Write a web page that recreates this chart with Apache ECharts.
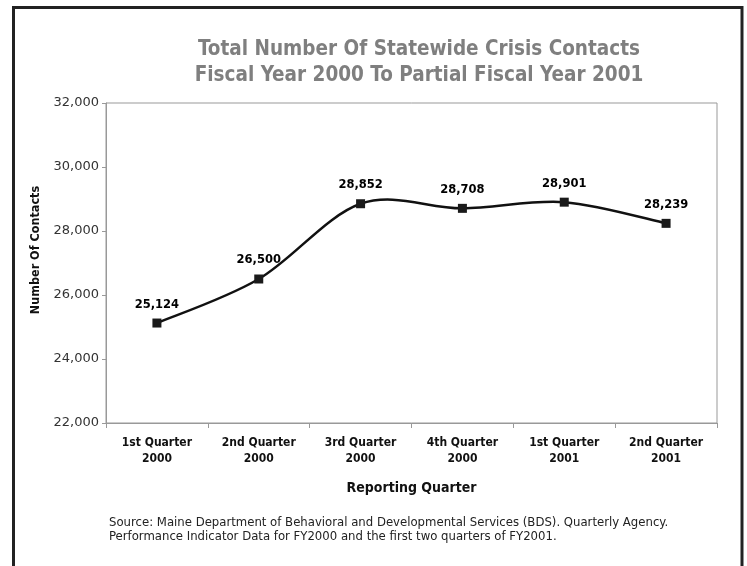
<!DOCTYPE html>
<html>
<head>
<meta charset="utf-8">
<script src="https://cdn.jsdelivr.net/npm/echarts@6/dist/echarts.min.js"></script>
<style>html,body{margin:0;padding:0;background:#fff;}#c{width:747px;height:566px;}</style>
</head>
<body>
<div id="c"></div>
<script>
const categories = ['1st Quarter\n2000', '2nd Quarter\n2000', '3rd Quarter\n2000', '4th Quarter\n2000', '1st Quarter\n2001', '2nd Quarter\n2001'];
const contacts = [25124, 26500, 28852, 28708, 28901, 28239];
const yMin = 22000, yMax = 32000, yStep = 2000;
const titleText = 'Total Number Of Statewide Crisis Contacts\nFiscal Year 2000 To Partial Fiscal Year 2001';
const yName = 'Number Of Contacts';
const xName = 'Reporting Quarter';
const sourceText = 'Source: Maine Department of Behavioral and Developmental Services (BDS). Quarterly Agency.\nPerformance Indicator Data for FY2000 and the first two quarters of FY2001.';

const narrow = '"Liberation Sans Narrow", "DejaVu Sans Condensed", sans-serif';

// Spline segment (Catmull-Rom style, like a spreadsheet "smoothed line"), positions via axis scales
function renderSpline(params, api) {
  const i = params.dataIndex;
  const n = contacts.length;
  if (i >= n - 1) return null;
  const pt = k => api.coord([Math.max(0, Math.min(n - 1, k)), contacts[Math.max(0, Math.min(n - 1, k))]]);
  const p0 = pt(i - 1), p1 = pt(i), p2 = pt(i + 1), p3 = pt(i + 2);
  return {
    type: 'bezierCurve',
    shape: {
      x1: p1[0], y1: p1[1], x2: p2[0], y2: p2[1],
      cpx1: p1[0] + (p2[0] - p0[0]) / 6, cpy1: p1[1] + (p2[1] - p0[1]) / 6,
      cpx2: p2[0] - (p3[0] - p1[0]) / 6, cpy2: p2[1] - (p3[1] - p1[1]) / 6
    },
    style: {fill: null, stroke: '#111', lineWidth: 2.5},
    silent: true
  };
}

const chart = echarts.init(document.getElementById('c'), null, {renderer: 'canvas'});
chart.setOption({
  animation: false,
  backgroundColor: '#fff',
  title: {
    text: titleText,
    left: 414, top: 32, textAlign: 'center',
    textStyle: {fontFamily: narrow, fontWeight: 'bold', fontSize: 20.5, lineHeight: 26, color: '#7f7f7f'}
  },
  grid: {left: 106, right: 30, top: 103, bottom: 143, show: true, borderColor: '#999', borderWidth: 1},
  xAxis: {
    type: 'category', data: categories, boundaryGap: true,
    name: xName, nameLocation: 'middle', nameGap: 58,
    nameTextStyle: {fontFamily: narrow, fontWeight: 'bold', fontSize: 14, color: '#111'},
    axisLine: {lineStyle: {color: '#999'}},
    axisTick: {show: true, length: 5, lineStyle: {color: '#999'}},
    axisLabel: {fontFamily: narrow, fontWeight: 'bold', fontSize: 12, lineHeight: 16, color: '#111', margin: 12, interval: 0}
  },
  yAxis: {
    type: 'value', min: yMin, max: yMax, interval: yStep,
    axisLine: {show: true, lineStyle: {color: '#999'}},
    axisTick: {show: true, length: 4, lineStyle: {color: '#999'}},
    splitLine: {show: false},
    axisLabel: {fontFamily: '"DejaVu Sans", sans-serif', fontSize: 13, color: '#333', margin: 7,
      formatter: v => v.toLocaleString('en-US')}
  },
  series: [
    {
      type: 'custom', data: contacts, renderItem: renderSpline, z: 2, clip: false
    },
    {
      type: 'scatter', data: contacts, z: 3,
      symbol: 'rect', symbolSize: 9,
      itemStyle: {color: '#1a1a1a', opacity: 1},
      label: {show: true, position: 'top', distance: 8, fontFamily: '"DejaVu Sans", sans-serif', fontWeight: 'bold', fontSize: 11.5, color: '#000',
        formatter: p => p.value.toLocaleString('en-US')}
    }
  ],
  graphic: [
    {type: 'rect', shape: {x: 13.5, y: 7.5, width: 728.5, height: 600}, style: {fill: null, stroke: '#222', lineWidth: 3}, silent: true},
    {type: 'text', x: 36, y: 250, rotation: Math.PI / 2,
      style: {text: yName, fontFamily: narrow, fontWeight: 'bold', fontSize: 12.5, fill: '#111', align: 'center', verticalAlign: 'middle'}},
    {type: 'text', left: 109, top: 516, style: {text: sourceText, fontFamily: narrow, fontSize: 13, lineHeight: 14, fill: '#222'}}
  ]
});
</script>
</body>
</html>
